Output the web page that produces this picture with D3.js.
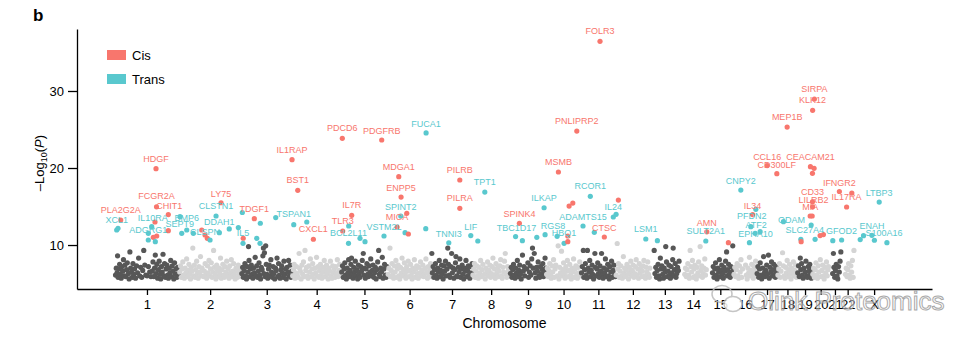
<!DOCTYPE html>
<html><head><meta charset="utf-8">
<script src="https://cdn.jsdelivr.net/npm/d3@7"></script>
<style>
body{margin:0;background:#fff}
svg{display:block;font-family:"Liberation Sans",Arial,Helvetica,sans-serif}
</style>
</head><body>
<svg id="chart" width="977" height="341"></svg>
<script>
// ---------------- data ----------------
const chromosomes = ["1","2","3","4","5","6","7","8","9","10","11","12","13","14","15","16","17","18","19","20","21","22","X"];
const chromLengthsMb = [249,243,198,191,181,171,159,146,141,136,135,134,115,107,103,90,81,78,59,63,48,51,155];
const yTickValues = [10,20,30];
const seriesNames = ["Cis","Trans"];
const xTitle = "Chromosome";

// non-significant background associations per chromosome: "positionMb:-log10P"
const backgroundByChrom = [
"2:6.1 5:7.0 8:6.4 10:8.6 12:5.8 15:6.9 18:7.5 21:6.2 24:5.7 27:7.2 30:6.6 33:8.1 36:6.0 39:7.4 42:5.9 45:6.8 48:7.7 52:6.3 55:5.6 58:9.1 61:7.0 64:6.5 67:5.8 70:7.6 73:6.2 76:6.9 80:5.7 84:7.3 88:6.4 92:8.3 96:6.0 100:7.1 104:5.8 108:6.7 112:9.3 116:7.4 120:6.1 125:6.0 130:7.2 135:6.5 140:5.9 145:6.6 148:7.8 151:5.9 154:7.0 157:8.7 160:6.3 163:7.5 166:5.7 169:6.8 172:7.9 175:6.2 178:5.6 181:7.2 184:6.5 187:8.8 190:6.0 193:7.6 196:5.8 199:6.9 202:7.4 205:6.1 208:5.7 211:7.0 214:6.4 217:8.0 220:5.9 223:7.3 226:6.6 229:5.6 232:7.7 235:6.2 238:6.9 241:5.8 244:7.1 247:6.3",
"3:6.5 6:7.3 9:5.8 12:6.9 15:7.8 18:6.1 21:5.7 24:7.0 27:6.4 30:8.2 33:5.9 36:6.7 39:7.5 42:6.2 45:5.6 48:7.1 51:6.6 54:9.6 57:6.0 60:7.4 63:5.8 66:6.8 69:7.9 72:6.3 75:5.7 78:7.2 81:6.5 84:8.5 87:6.0 90:7.0 96:5.9 99:6.6 102:7.6 105:6.1 108:5.7 111:7.3 114:6.4 117:8.0 120:6.0 123:6.9 126:7.7 129:5.8 132:6.5 135:9.3 138:7.1 141:6.2 144:5.6 147:7.4 150:6.7 153:5.9 156:7.0 159:6.3 162:8.3 165:5.7 168:6.8 171:7.5 174:6.1 177:5.8 180:7.2 183:6.5 186:7.9 189:6.0 192:6.9 195:5.7 198:7.3 201:6.4 204:8.1 207:5.9 210:6.6 213:7.6 216:6.2 219:5.6 222:7.0 225:6.7 228:5.8 231:7.4 234:6.3 237:6.9 240:5.9",
"2:6.3 5:7.1 8:5.8 11:6.7 14:7.6 17:6.0 20:5.6 23:7.2 26:6.5 28:9.8 30:8.0 33:5.9 36:6.9 39:7.4 42:6.2 45:5.7 48:7.0 51:6.4 54:8.4 57:6.0 60:7.3 63:5.8 66:6.6 69:7.7 72:6.1 75:5.6 78:7.1 81:6.8 84:8.6 86:9.6 88:6.3 90:9.0 92:5.9 95:9.9 97:7.5 100:6.2 103:5.7 106:6.9 109:7.4 112:6.0 115:8.1 118:6.5 121:5.8 124:7.2 127:6.3 130:5.6 133:7.0 136:6.7 139:8.3 142:5.9 145:7.6 148:6.1 151:5.7 154:6.8 157:7.3 160:6.4 163:5.8 166:7.9 169:6.2 172:6.9 175:5.6 178:7.1 181:6.5 184:8.0 187:6.0 190:7.4 193:5.8 196:6.6",
"2:6.0 5:6.8 8:7.5 11:5.7 14:6.4 17:7.2 20:6.1 23:5.8 27:8.9 29:7.0 32:6.6 35:5.6 38:7.4 41:6.2 44:7.8 47:5.9 50:9.3 53:6.7 56:7.1 59:6.0 62:5.7 65:7.3 68:6.5 71:8.2 74:5.9 77:6.9 80:7.6 83:6.2 86:5.6 89:7.0 92:6.4 95:8.4 98:6.0 101:7.2 104:5.8 107:6.7 110:7.5 113:6.1 116:5.7 119:7.1 122:6.5 125:8.0 128:5.9 131:6.8 134:7.4 137:6.2 140:5.6 143:7.0 146:6.6 149:7.9 152:6.0 155:5.7 158:7.3 161:6.4 164:6.9 167:5.8 170:7.2 173:6.3 176:8.1 179:5.9 182:6.7 185:7.5 188:6.1",
"2:6.5 5:7.3 8:5.8 11:6.9 14:7.7 17:6.1 20:5.6 23:7.0 26:6.4 29:8.1 32:5.9 35:6.7 38:7.5 40:8.3 43:6.2 46:5.7 49:7.1 52:6.5 55:7.9 58:6.0 61:6.8 64:5.6 67:7.4 70:6.3 73:5.8 76:7.2 79:6.6 82:8.0 86:8.9 88:6.1 91:7.0 94:5.7 97:6.9 100:7.6 103:6.2 106:5.9 109:7.3 112:6.5 115:8.2 118:6.0 121:6.7 124:7.4 127:5.8 130:6.4 133:7.1 136:5.6 139:6.8 142:7.8 146:9.3 148:6.2 151:5.9 154:7.0 157:6.5 160:8.4 163:5.7 166:6.9 169:7.5 172:6.1 175:5.8 178:7.2",
"2:6.2 5:7.0 9:9.6 11:5.9 14:6.7 17:7.6 20:6.1 23:5.7 26:7.3 29:6.5 32:8.0 35:5.8 38:6.9 41:7.4 44:6.0 47:5.6 50:7.1 53:6.4 56:8.3 59:6.0 62:6.8 65:7.7 68:6.2 71:5.7 74:7.2 77:6.6 80:7.9 83:5.9 86:6.7 89:7.5 92:6.1 95:5.6 98:7.0 101:6.5 104:8.1 107:5.8 110:6.9 113:7.3 116:6.3 119:5.7 122:7.1 125:6.4 128:7.8 131:6.0 134:6.7 137:7.4 140:5.9 143:6.2 146:7.0 149:8.2 152:6.5 155:5.7 158:7.2 161:6.1 164:6.8 167:7.6 170:5.9",
"1:8.9 3:6.4 6:7.2 9:5.8 12:6.8 15:7.6 18:6.1 21:5.7 24:7.0 27:6.5 30:8.0 33:5.9 36:6.7 39:7.4 42:6.2 45:5.6 48:7.3 51:6.6 54:7.9 57:6.0 60:6.9 63:9.6 66:7.5 69:6.1 72:5.8 75:7.2 78:8.9 81:6.4 84:7.0 87:5.7 90:6.8 93:7.7 95:8.5 98:6.0 101:5.9 104:7.1 107:6.5 110:8.2 113:5.8 116:6.9 119:7.4 122:6.2 125:5.6 128:7.0 131:6.6 134:8.0 137:5.9 140:6.7 143:7.3 146:6.1 149:5.7 152:7.2 155:6.4 158:7.6",
"2:6.1 5:6.9 8:7.6 11:5.8 14:6.6 17:7.3 20:6.0 23:5.7 26:7.1 29:6.4 32:8.0 35:5.9 38:6.8 41:7.5 47:6.2 50:5.6 53:7.0 56:6.5 59:7.8 62:6.0 65:6.7 68:7.4 71:5.8 74:6.3 77:7.2 80:8.3 83:6.1 86:6.9 89:5.7 92:7.6 95:6.4 98:7.0 101:5.9 104:6.6 107:7.3 110:8.1 113:6.0 116:5.7 119:7.1 122:6.5 125:7.9 128:8.9 131:6.2 134:5.8 137:7.2 140:6.7 143:6.0",
"2:6.3 5:7.1 8:5.8 11:6.8 14:7.5 17:6.1 20:5.7 23:7.0 26:6.4 29:8.0 32:5.9 35:6.7 38:7.4 41:6.2 44:5.6 49:8.7 52:6.6 55:7.2 58:6.0 65:6.9 70:7.7 73:5.8 76:6.5 79:7.3 82:6.1 85:8.2 88:9.6 91:7.0 95:8.9 98:6.4 101:5.7 104:7.1 107:6.6 110:7.8 113:6.0 116:5.8 119:7.2 122:6.3 125:6.9 128:7.6 131:5.9 134:6.5 137:8.3 140:7.0",
"2:6.2 5:7.0 8:5.9 11:6.7 14:7.6 17:6.1 20:5.7 23:7.3 26:6.5 29:8.1 32:5.8 35:6.9 38:7.4 44:6.0 47:9.9 50:5.6 53:7.1 56:6.4 60:9.2 62:6.0 65:6.8 68:7.7 71:6.2 74:5.7 77:7.2 80:6.6 83:8.0 86:5.9 89:6.7 92:7.5 95:6.1 98:5.6 101:7.0 104:6.5 107:8.2 110:5.8 113:6.9 116:7.3 119:6.3 122:5.7 125:7.1 128:6.4 131:7.8 134:6.0",
"2:6.4 5:7.2 9:9.3 11:5.8 14:6.8 17:7.6 20:6.1 23:5.7 25:9.3 28:7.0 31:6.5 34:8.0 37:5.9 40:6.7 43:7.4 46:6.2 49:5.6 54:8.9 56:7.1 59:6.0 62:6.9 65:7.7 68:6.3 71:5.8 74:7.3 77:6.6 80:8.9 83:6.1 86:5.7 89:7.0 92:6.4 95:8.2 98:5.9 101:6.8 104:7.5 107:6.0 110:5.6 113:7.2 116:6.5 119:7.9 122:5.8 125:6.7 128:7.4 131:6.1 134:5.9",
"2:6.1 6:10.2 8:6.9 11:7.6 14:5.8 17:6.6 20:7.3 23:6.0 26:5.7 30:8.5 32:6.4 35:7.0 38:5.9 41:6.8 44:7.5 47:6.2 50:5.6 53:7.1 56:6.5 59:7.9 62:6.0 65:6.7 68:7.4 71:5.8 74:6.3 77:7.2 80:8.1 83:6.1 86:6.9 89:5.7 92:7.6 95:6.4 98:7.0 101:5.9 104:6.6 107:7.3 110:8.0 113:6.0 116:5.7 119:7.1 122:6.5 125:7.8 128:6.2 131:5.8 133:7.0",
"16:9.3 19:6.3 22:7.1 25:5.8 28:6.7 31:7.5 34:6.0 37:5.6 40:8.3 43:6.9 46:7.3 49:6.2 52:5.7 55:7.0 58:6.5 61:9.8 64:7.8 67:5.9 70:6.6 73:7.4 76:6.1 79:5.7 82:7.2 85:6.4 88:8.1 90:9.6 92:6.0 95:6.8 98:7.6 101:5.8 104:6.3 107:7.1 110:6.7 113:7.9",
"20:6.2 23:7.0 26:5.9 29:6.8 32:7.6 35:6.1 38:5.7 41:9.3 44:7.2 47:6.5 50:8.0 53:5.8 56:6.9 59:7.4 62:6.0 65:5.6 68:7.1 71:6.4 74:7.8 77:6.0 80:9.8 83:6.7 86:7.3 89:5.8 92:6.3 95:7.0 98:8.2 101:6.1 104:6.8",
"21:6.4 24:7.2 27:5.8 30:6.9 33:7.7 36:6.1 39:5.6 42:7.0 45:6.5 48:8.1 51:5.9 54:6.7 57:7.4 60:6.2 63:5.7 66:7.1 69:6.6 72:7.9 76:9.1 78:6.0 81:6.8 84:7.5 87:6.3 90:5.8 93:7.2 96:6.5 100:9.9 102:7.0",
"2:6.2 5:7.1 8:5.9 11:6.8 14:7.6 17:6.0 20:5.7 23:7.3 26:6.5 29:8.1 32:5.8 35:6.9 47:7.4 50:6.1 53:5.6 56:7.0 59:6.4 62:8.4 65:6.0 68:6.7 71:7.5 74:6.2 77:5.7 80:7.2 83:6.6 86:7.9 89:6.0",
"2:6.3 5:7.2 8:5.8 11:6.9 14:7.7 17:6.1 20:5.6 24:7.0 27:8.5 30:6.4 33:5.9 36:6.7 39:7.4 42:6.2 46:8.7 49:5.7 52:7.1 55:6.5 58:7.8 61:6.0 64:6.8 67:7.5 70:6.2 73:5.8 76:7.2 79:6.6",
"2:6.1 5:6.9 8:7.6 11:5.8 14:6.6 20:9.0 23:7.3 26:6.0 29:5.7 32:7.1 35:6.4 38:8.0 41:5.9 44:6.8 47:7.5 50:6.2 53:5.6 56:7.0 59:6.5 62:7.8 65:6.0 68:6.7 71:7.4 74:5.8 77:6.3",
"1:6.4 4:7.3 7:5.9 11:8.3 13:6.8 16:7.6 19:6.1 22:5.7 25:7.0 30:6.5 33:7.9 36:6.0 39:5.8 42:7.2 45:6.6 48:7.5 51:6.2 54:5.7 57:6.9",
"1:6.2 4:7.0 7:5.8 10:6.8 13:7.7 16:6.1 19:5.7 22:7.3 25:6.5 30:8.1 33:5.9 36:6.7 39:7.4 42:6.0 45:5.6 48:7.1 51:6.4 54:7.8 57:6.0 60:6.8 62:7.2",
"15:6.3 18:8.9 20:7.1 23:5.8 26:6.7 29:7.5 32:6.0 35:5.6 38:7.2 41:6.5 44:7.9 47:9.1",
"17:6.2 20:7.0 23:5.9 26:6.8 29:7.6 32:6.1 35:5.7 38:7.3 41:6.5 44:8.0 47:5.8 50:9.3",
""
];

// significant pQTL hits: [gene label ("" = unlabelled), chromosome, positionMb, -log10P, type]
const hits = [
["PLA2G2A","1",22.2,13.25,"Cis"],["XCL1","1",6.6,11.95,"Trans"],["","1",11.7,12.17,"Trans"],
["FCGR2A","1",161.7,14.96,"Cis"],["HDGF","1",159.7,19.91,"Cis"],["CHIT1","1",207.6,13.96,"Cis"],
["","1",155.8,12.99,"Cis"],["IL10RA","1",143,12.38,"Trans"],["","1",129.7,11.52,"Trans"],
["ADGRG1","1",129.7,10.65,"Trans"],["","1",149.2,11.0,"Cis"],["","1",162.4,11.17,"Cis"],
["","1",157,10.43,"Trans"],["","1",207.6,11.86,"Cis"],
["","2",4.3,13.68,"Trans"],["SEPT9","2",10.9,11.52,"Trans"],["BMP6","2",30.4,11.95,"Trans"],
["","2",56.1,11.52,"Trans"],["","2",88.8,11.95,"Cis"],["","2",101.7,11.3,"Cis"],["","2",110.6,10.87,"Cis"],
["CLSPN","2",121.2,10.65,"Trans"],["CLSTN1","2",144.5,13.77,"Trans"],["LY75","2",164,15.49,"Cis"],
["DDAH1","2",157.4,11.6,"Trans"],["","2",196,12.09,"Trans"],["","2",231.4,12.27,"Trans"],
["","3",3.9,14.22,"Trans"],["","3",7.4,10.88,"Cis"],["IL5","3",6.6,10.22,"Trans"],
["TDGF1","3",50.6,13.42,"Cis"],["","3",74,12.83,"Trans"],["","3",60,10.87,"Trans"],
["","3",72.8,10.22,"Trans"],["","3",134,13.57,"Trans"],["IL1RAP","3",197.5,21.08,"Cis"],
["BST1","4",21.8,17.1,"Cis"],["TSPAN1","4",6.2,12.64,"Trans"],["","4",56.9,12.99,"Trans"],["CXCL1","4",82.6,10.75,"Cis"],
["PDCD6","5",4.3,23.86,"Cis"],["PDGFRB","5",157.8,23.64,"Cis"],["TLR3","5",5.8,11.82,"Cis"],
["","5",29.2,12.47,"Trans"],["IL7R","5",40.9,13.86,"Cis"],["BCL2L11","5",28.4,10.22,"Trans"],
["","5",73.2,10.87,"Trans"],["","5",92.7,10.43,"Trans"],["VSTM2L","5",166.7,11.17,"Trans"],
["MDGA1","6",43.2,18.87,"Cis"],["ENPP5","6",52.2,16.23,"Cis"],["SPINT2","6",51,13.77,"Trans"],
["","6",74.4,14.12,"Cis"],["MICA","6",36.6,12.34,"Cis"],["","6",67.8,11.6,"Trans"],
["","6",80.6,11.43,"Cis"],["FUCA1","6",149.6,24.55,"Trans"],["","6",148.4,12.12,"Trans"],
["PILRB","7",109.9,18.44,"Cis"],["PILRA","7",109.9,14.77,"Cis"],["TNNI3","7",67,10.29,"Trans"],["LIF","7",152.7,11.23,"Trans"],
["","8",21,10.52,"Trans"],["TPT1","8",48.3,16.88,"Trans"],
["TBC1D17","9",22.2,11.1,"Trans"],["SPINK4","9",37,12.82,"Cis"],["","9",48.7,10.56,"Trans"],
["","9",104.8,11.0,"Trans"],["","9",137.1,11.34,"Trans"],["ILKAP","9",133.2,14.84,"Trans"],
["MSMB","10",47.9,19.48,"Cis"],["RGS8","10",42.9,11.13,"Trans"],["HBQ1","10",70.1,10.22,"Trans"],
["","10",84.5,11.17,"Cis"],["","10",84.5,10.43,"Cis"],["","10",89.6,15.06,"Cis"],
["","10",104,15.45,"Cis"],["PNLIPRP2","10",119.6,24.8,"Cis"],
["ADAMTS15","11",7.8,12.47,"Trans"],["RCOR1","11",36.2,16.32,"Trans"],["","11",51.8,11.65,"Trans"],
["CTSC","11",90.8,11.04,"Cis"],["FOLR3","11",74,36.45,"Cis"],["IL24","11",125.8,13.64,"Trans"],
["","12",1.6,13.99,"Trans"],["","12",10.5,15.84,"Cis"],["LSM1","12",117.3,10.78,"Trans"],
["","13",28.4,10.56,"Trans"],
["AMN","14",106,11.71,"Cis"],["SULT2A1","14",102,10.52,"Trans"],
["","15",83,10.3,"Cis"],
["CNPY2","16",28.4,17.14,"Trans"],["IL34","16",74.4,13.96,"Cis"],["","16",86.9,14.64,"Trans"],
["PFDN2","16",67.4,12.38,"Trans"],["","16",84.1,11.52,"Trans"],["EPHA10","16",61.9,10.3,"Trans"],
["ATF2","17",13.6,11.73,"Trans"],["CCL16","17",40.9,20.32,"Cis"],["CD300LF","17",78.7,19.26,"Cis"],
["ODAM","18",23.4,13.03,"Trans"],["MEP1B","18",37.8,25.32,"Cis"],
["KLK12","19",59,27.49,"Cis"],["CEACAM21","19",50.6,20.17,"Cis"],["","19",58.4,19.31,"Cis"],
["CD33","19",58.5,15.62,"Cis"],["LILRB2","19",59,14.97,"Cis"],["MIA","19",49.5,13.77,"Cis"],
["","19",57.3,13.77,"Cis"],["","19",53.4,12.6,"Trans"],["SLC27A4","19",13.2,10.74,"Trans"],["","19",14.4,10.43,"Cis"],
["SIRPA","20",7,28.96,"Cis"],["","20",5.8,19.96,"Cis"],["","20",9.7,10.74,"Trans"],
["","20",29.2,11.23,"Cis"],["","20",42.1,11.36,"Cis"],
["IFNGR2","21",41.3,16.95,"Cis"],["","21",15.6,10.56,"Trans"],
["GFOD2","22",2,10.65,"Trans"],["","22",41.7,16.75,"Cis"],["IL17RA","22",21.4,14.94,"Cis"],
["LTBP3","X",97.4,15.58,"Trans"],["ENAH","X",69,11.26,"Trans"],["","X",36.2,11.21,"Trans"],
["","X",23.4,10.71,"Trans"],["S100A16","X",127.4,10.3,"Trans"],["","X",78.7,10.62,"Trans"]
];

// ---------------- layout / style ----------------
const labelOffsets = {
  FCGR2A:[0,-11], CHIT1:[1,-9], IL10RA:[1,-9], SEPT9:[-2,-9], BMP6:[0,-12], CLSPN:[-5,-8],
  LY75:[0,-9], DDAH1:[0,-11], TSPAN1:[0,-11], VSTM2L:[0,-9], SPINT2:[0,-9], ENPP5:[0,-9],
  PDGFRB:[0,-9], FUCA1:[0,-9], TNNI3:[0,-9], LIF:[0,-9], TBC1D17:[1,-9], SPINK4:[0,-9],
  RGS8:[-4,-10], ADAMTS15:[0,-9], CTSC:[0,-9], AMN:[0,-9], CNPY2:[0,-9], IL34:[0,-9],
  PFDN2:[1,-11], ATF2:[-4,-7], EPHA10:[6,-9], CCL16:[0,-9], CD300LF:[0,-9], ODAM:[8,-2],
  SLC27A4:[4,-9], LILRB2:[1,-7], MIA:[0,-9], IFNGR2:[0,-9], GFOD2:[0,-9], LTBP3:[0,-9],
  ENAH:[0,-9], S100A16:[-3,-10]
};
const colors = {Cis:"#F8766D", Trans:"#59C8CE"};
const grayDark = "#575757", grayLight = "#D4D4D4";
const font = '"Liberation Sans", Arial, Helvetica, sans-serif';
const pointR = 2.6;

const svg = d3.select("#chart");
const plot = {left:77, right:932, top:29, bottom:289};

const offsets = [0, ...d3.cumsum(chromLengthsMb)].slice(0, chromosomes.length);
const chromIndex = new Map(chromosomes.map((c,i)=>[c,i]));
const genomePos = (chr,pos) => offsets[chromIndex.get(chr)] + pos;
const centers = chromosomes.map((c,i)=>offsets[i] + chromLengthsMb[i]/2);

const x = d3.scaleLinear().domain([-148, 3182]).range([plot.left, plot.right]);
const y = d3.scaleLinear().domain([4.29, 38.05]).range([plot.bottom, plot.top]);

// background points
const bg = [];
backgroundByChrom.forEach((s,i)=>{
  s.trim().split(/\s+/).filter(t=>t).forEach(t=>{
    const [p,v] = t.split(":").map(Number);
    bg.push({chr:chromosomes[i], idx:i, pos:p, val:v});
  });
});
svg.append("g").selectAll("circle").data(bg).join("circle")
  .attr("cx", d=>x(genomePos(d.chr,d.pos)))
  .attr("cy", d=>y(d.val))
  .attr("r", pointR)
  .attr("fill", d=> d.idx % 2 === 0 ? grayDark : grayLight);

// hits
const hitData = hits.map(h=>({gene:h[0], chr:h[1], pos:h[2], val:h[3], type:h[4]}));
svg.append("g").selectAll("circle").data(hitData).join("circle")
  .attr("cx", d=>x(genomePos(d.chr,d.pos)))
  .attr("cy", d=>y(d.val))
  .attr("r", pointR)
  .attr("fill", d=>colors[d.type]);

svg.append("g").selectAll("text").data(hitData.filter(d=>d.gene)).join("text")
  .attr("x", d=>x(genomePos(d.chr,d.pos)) + (labelOffsets[d.gene]||[0,-10])[0])
  .attr("y", d=>y(d.val) + (labelOffsets[d.gene]||[0,-10])[1])
  .attr("text-anchor","middle")
  .attr("dominant-baseline","central")
  .attr("font-family", font)
  .attr("font-size", 9)
  .attr("fill", d=>colors[d.type])
  .text(d=>d.gene);

// axes
const yAxis = d3.axisLeft(y).tickValues(yTickValues).tickSize(9).tickSizeOuter(0).tickPadding(4);
const gy = svg.append("g").attr("transform",`translate(${plot.left},0)`).call(yAxis);
gy.selectAll("text").attr("font-size",13).attr("font-family",font).attr("fill","#000");
gy.selectAll("line,path").attr("stroke","#000").attr("stroke-width",1.3);

const xAxis = d3.axisBottom(x).tickValues(centers).tickFormat((d,i)=>chromosomes[i])
  .tickSize(6).tickSizeOuter(0).tickPadding(5);
const gx = svg.append("g").attr("transform",`translate(0,${plot.bottom})`).call(xAxis);
gx.selectAll("text").attr("font-size",13).attr("font-family",font).attr("fill","#000");
gx.selectAll("line,path").attr("stroke","#000").attr("stroke-width",1.3);

svg.append("text").attr("x",(plot.left+plot.right)/2).attr("y",328)
  .attr("text-anchor","middle").attr("font-family",font).attr("font-size",14).text(xTitle);

const yt = svg.append("text").attr("transform","translate(44,163) rotate(-90)")
  .attr("text-anchor","middle").attr("font-family",font).attr("font-size",13);
yt.append("tspan").text("\u2013Log");
yt.append("tspan").attr("font-size",9).attr("dy",3).text("10");
yt.append("tspan").attr("dy",-3).text("(");
yt.append("tspan").attr("font-style","italic").text("P");
yt.append("tspan").text(")");

// legend
const lg = svg.append("g");
seriesNames.forEach((s,i)=>{
  lg.append("rect").attr("x",107).attr("y",50+i*24).attr("width",19).attr("height",10).attr("fill",colors[s]);
  lg.append("text").attr("x",132).attr("y",55+i*24).attr("dominant-baseline","central")
    .attr("font-family",font).attr("font-size",13).text(s);
});

// panel letter
svg.append("text").attr("x",33).attr("y",21).attr("font-family",font).attr("font-weight","bold")
  .attr("font-size",17).text("b");

// watermark
const wm = svg.append("g").attr("opacity",0.85);
wm.append("ellipse").attr("cx",722).attr("cy",294).attr("rx",10).attr("ry",8.5).attr("fill","none").attr("stroke","#bbb").attr("stroke-width",1.5);
wm.append("ellipse").attr("cx",733).attr("cy",304).attr("rx",9).attr("ry",7.5).attr("fill","#fff").attr("stroke","#bbb").attr("stroke-width",1.5);
wm.append("text").attr("x",748).attr("y",310).attr("font-family",font).attr("font-size",26)
  .attr("fill","rgba(255,255,255,0.5)").attr("stroke","#9a9a9a").attr("stroke-width",1).text("Olink Proteomics");
</script>
</body></html>
